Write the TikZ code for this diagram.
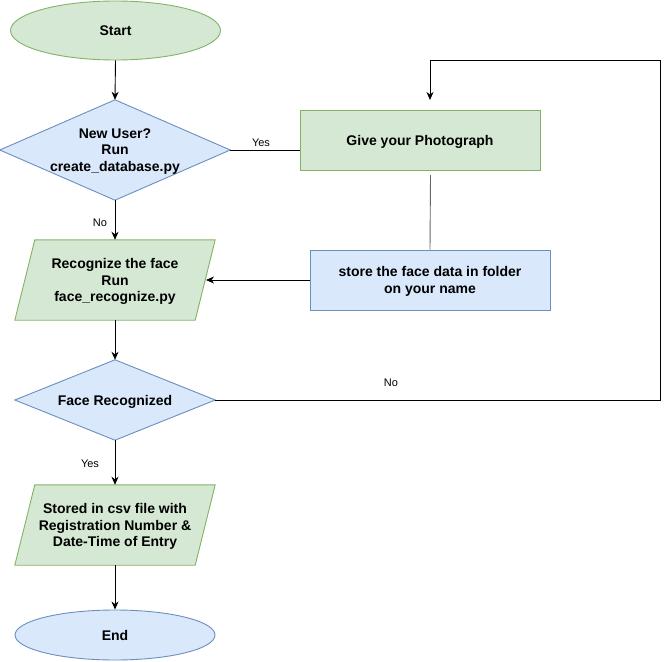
\documentclass[tikz,border=0pt]{standalone}
\usepackage{fontspec}
\setmainfont{Liberation Sans}
\usetikzlibrary{shapes.geometric,arrows.meta,backgrounds,calc}
\definecolor{gfill}{HTML}{D5E8D4}
\definecolor{gline}{HTML}{82B366}
\definecolor{bfill}{HTML}{DAE8FC}
\definecolor{bline}{HTML}{6C8EBF}
\begin{document}
\begin{tikzpicture}[x=1pt,y=-1pt,
  greenshape/.style={fill=gfill,draw=gline,line width=0.9pt},
  blueshape/.style={fill=bfill,draw=bline,line width=0.9pt},
  lbl/.style={font=\bfseries\fontsize{14}{16.8}\selectfont,align=center,inner sep=0pt,text depth=-1pt},
  small/.style={font=\fontsize{11}{13}\selectfont,inner sep=0pt},
  arr/.style={-{Stealth[length=8pt,width=7pt,inset=2.5pt]},line width=0.9pt},
  plain/.style={line width=0.9pt}]
\useasboundingbox (0,0) rectangle (669,661);

% Start
\node[ellipse,greenshape,lbl,minimum width=210,minimum height=59] (start) at (115.5,30.5) {Start};

% Decision 1
\node[lbl,minimum width=230,minimum height=100] (d1) at (115,150) {New User?\\Run\\create\_database.py};
\begin{pgfonlayer}{background}
\draw[blueshape] (d1.west) -- (d1.north) -- (d1.east) -- (d1.south) -- cycle;
\end{pgfonlayer}

% Give photograph
\node[rectangle,greenshape,lbl,minimum width=240,minimum height=60] (photo) at (420,140) {Give your Photograph};

% Store
\node[rectangle,blueshape,lbl,minimum width=240,minimum height=60] (store) at (430,280) {store the face data in folder\\on your name};

% Recognize parallelogram
\node[lbl,minimum width=200,minimum height=80] (p1) at (115,280) {Recognize the face\\Run\\face\_recognize.py};
\begin{pgfonlayer}{background}
\draw[greenshape] ([xshift=20pt]p1.north west) -- (p1.north east) -- ([xshift=-20pt]p1.south east) -- (p1.south west) -- cycle;
\end{pgfonlayer}

% Decision 2
\node[lbl,minimum width=200,minimum height=80] (d2) at (115,400) {Face Recognized};
\begin{pgfonlayer}{background}
\draw[blueshape] (d2.west) -- (d2.north) -- (d2.east) -- (d2.south) -- cycle;
\end{pgfonlayer}

% Stored parallelogram
\node[lbl,minimum width=200,minimum height=80] (p2) at (115,525) {Stored in csv file with\\Registration Number \&\\Date-Time of Entry};
\begin{pgfonlayer}{background}
\draw[greenshape] ([xshift=20pt]p2.north west) -- (p2.north east) -- ([xshift=-20pt]p2.south east) -- (p2.south west) -- cycle;
\end{pgfonlayer}

% End
\node[ellipse,blueshape,lbl,minimum width=200,minimum height=50] (end) at (115,635) {End};

% Connectors
\draw[arr] (start.south) -- (d1.north);
\draw[plain] (d1.east) -- (d1.east -| photo.west);
\node[small] (yes1) at (261,143) {Yes};
\draw[arr] (d1.south) -- (p1.north);
\node[small] (no1) at (100,223) {No};
\coordinate (photoout) at (430.5,175);
\draw[line width=0.9pt,black!60] (photoout) -- (store.north);
\coordinate (p1in) at (206,280);
\draw[arr] (store.west) -- (p1in);
\draw[arr] (p1.south) -- (d2.north);
\coordinate (loopc) at (660,60);
\coordinate (loopend) at (430,100);
\draw[arr] (d2.east) -| (loopc) -| (loopend);
\node[small] (no2) at (391,383) {No};
\draw[arr] (d2.south) -- (p2.north);
\node[small] (yes2) at (90,464) {Yes};
\draw[arr] (p2.south) -- (end.north);
\end{tikzpicture}
\end{document}
